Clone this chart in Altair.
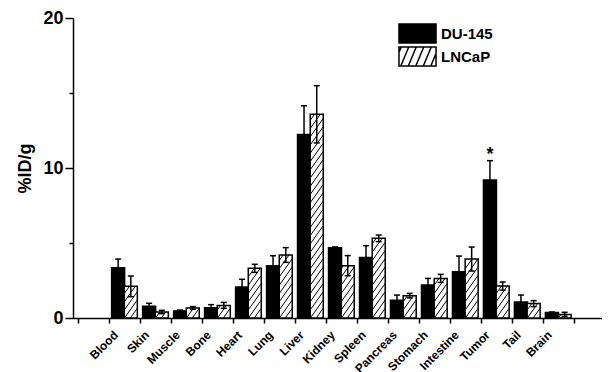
import altair as alt
import pandas as pd
import numpy as np

organs = ["Blood", "Skin", "Muscle", "Bone", "Heart", "Lung", "Liver", "Kidney",
          "Spleen", "Pancreas", "Stomach", "Intestine", "Tumor", "Tail", "Brain"]
du145 = [3.35, 0.78, 0.47, 0.69, 2.07, 3.49, 12.24, 4.69, 4.04, 1.18, 2.20, 3.09, 9.20, 1.07, 0.36]
du145_err = [0.58, 0.20, 0.06, 0.20, 0.51, 0.66, 1.91, 0.05, 0.78, 0.35, 0.44, 1.04, 1.29, 0.46, 0.04]
lncap = [2.11, 0.40, 0.67, 0.84, 3.31, 4.20, 13.58, 3.49, 5.31, 1.49, 2.64, 3.93, 2.13, 0.96, 0.24]
lncap_err = [0.69, 0.11, 0.09, 0.20, 0.27, 0.49, 1.91, 0.67, 0.22, 0.15, 0.27, 0.80, 0.27, 0.20, 0.14]
significance = ["", "", "", "", "", "", "", "", "", "", "", "", "*", "", ""]
series = ["DU-145", "LNCaP"]
y_ticks = [0, 5, 10, 15, 20]

FONT = "Liberation Sans"
HALF = 0.205          # half bar width in band units
rows = []
for i, org in enumerate(organs):
    center = i + 1.5
    rows.append(dict(organ=org, series=series[0], pos=center - HALF, value=du145[i],
                     lo=du145[i] - du145_err[i], hi=du145[i] + du145_err[i], sig=significance[i]))
    rows.append(dict(organ=org, series=series[1], pos=center + HALF, value=lncap[i],
                     lo=lncap[i] - lncap_err[i], hi=lncap[i] + lncap_err[i], sig=""))
df = pd.DataFrame(rows)
leg_df = pd.DataFrame({"legend_series": series, "pos": [1.5, 1.5], "value": [0, 0]})

# hatch segments for the LNCaP bars (slope in y-units per x-unit, spacing in y-units)
K = 2.9
P = 0.55
hatch = []
for _, r in df[df.series == "LNCaP"].iterrows():
    x0 = r.pos - HALF
    W = 2 * HALF
    H = r.value
    n0 = int(np.floor(-K * W / P)) - 1
    n1 = int(np.ceil(H / P)) + 1
    for n in range(n0, n1):
        c = n * P
        xa = max(0.0, -c / K)
        xb = min(W, (H - c) / K)
        if xb - xa > 0.01:
            hatch.append(dict(x1=x0 + xa, x2=x0 + xb, y1=c + K * xa, y2=c + K * xb))
hdf = pd.DataFrame(hatch)

names_js = "[" + ",".join("'" + o + "'" for o in organs) + "]"
x_axis = alt.Axis(values=list(range(17)),
                  labelExpr=f"datum.value >= 1 && datum.value <= {len(organs)} ? {names_js}[datum.value - 1] : ''",
                  labelAngle=-45, labelAlign="right", labelBaseline="top", labelOffset=3,
                  labelPadding=6, tickSize=5, tickWidth=1.5, domainWidth=1.5,
                  domainColor="black", tickColor="black", labelColor="black",
                  labelFont=FONT, labelFontWeight="bold", labelFontSize=12,
                  labelOverlap=False, labelBound=False, labelFlush=False, grid=False, title=None)
y_axis = alt.Axis(values=y_ticks,
                  labelExpr="datum.value % 10 === 0 ? datum.label : ''",
                  tickSize={"condition": {"test": "datum.value % 10 !== 0", "value": 4}, "value": 8},
                  tickWidth=1.5, domainWidth=1.5, domainColor="black", tickColor="black",
                  labelColor="black", labelFont=FONT, labelFontWeight="bold", labelFontSize=18,
                  labelPadding=2, grid=False, title="%ID/g", titleFont=FONT,
                  titleFontWeight="bold", titleFontSize=18, titleColor="black", titlePadding=8)

xs = alt.Scale(domain=[0, 16.75], nice=False, zero=False)
ys = alt.Scale(domain=[0, 20], nice=False)
fill_scale = alt.Scale(domain=series, range=["black", "white"])

base = alt.Chart(df)
bars = base.mark_bar(size=13, stroke="black", strokeWidth=1.5).encode(
    x=alt.X("pos:Q", scale=xs, axis=x_axis),
    y=alt.Y("value:Q", scale=ys, axis=y_axis),
    fill=alt.Fill("series:N", scale=fill_scale, legend=None),
)
hatch_layer = alt.Chart(hdf).mark_rule(color="black", strokeWidth=1).encode(
    x=alt.X("x1:Q", scale=xs, axis=x_axis), x2="x2:Q",
    y=alt.Y("y1:Q", scale=ys, axis=y_axis), y2="y2:Q",
)
err = base.mark_rule(color="black", strokeWidth=1.5).encode(
    x=alt.X("pos:Q", scale=xs, axis=x_axis),
    y=alt.Y("lo:Q", scale=ys, axis=y_axis), y2="hi:Q",
)
cap_hi = base.mark_tick(orient="horizontal", size=6, thickness=1.5, color="black", opacity=1).encode(
    x=alt.X("pos:Q", scale=xs, axis=x_axis),
    y=alt.Y("hi:Q", scale=ys, axis=y_axis),
)
cap_lo = base.mark_tick(orient="horizontal", size=6, thickness=1.5, color="black", opacity=1).encode(
    x=alt.X("pos:Q", scale=xs, axis=x_axis),
    y=alt.Y("lo:Q", scale=ys, axis=y_axis),
)
star = base.mark_text(font=FONT, fontWeight="bold", fontSize=18, color="black",
                      baseline="alphabetic", dy=-1).encode(
    x=alt.X("pos:Q", scale=xs, axis=x_axis),
    y=alt.Y("hi:Q", scale=ys, axis=y_axis),
    text="sig:N",
)

# legend symbols: 37x19 px boxes, drawn as custom paths (symbol size 19px -> r = 9.5)
HW = 1.95
rect_path = f"M{-HW},-1H{HW}V1H{-HW}Z"
hatch_parts = []
RUN = 0.84
for b in np.arange(-HW - 0.6, HW, 0.79):
    xa, ya = b, 1.0
    xb, yb = b + RUN, -1.0
    if xa < -HW:
        ya = 1 - 2 * (-HW - b) / RUN
        xa = -HW
    if xb > HW:
        yb = 1 - 2 * (HW - b) / RUN
        xb = HW
    if xb > xa:
        hatch_parts.append(f"M{xa:.3f},{ya:.3f}L{xb:.3f},{yb:.3f}")
hatch_path = rect_path + "".join(hatch_parts)

legend_def = alt.Legend(title=None, orient="none", legendX=334, legendY=5,
                        symbolSize=361, symbolStrokeColor="black",
                        symbolStrokeWidth=1.5, symbolOpacity=1,
                        labelFont=FONT, labelFontWeight="bold", labelFontSize=15,
                        labelColor="black", labelOffset=13, rowPadding=-6, padding=0)
legend_layer = alt.Chart(leg_df).mark_point(size=0, filled=True, strokeWidth=1.5).encode(
    x=alt.X("pos:Q", scale=xs, axis=x_axis),
    y=alt.Y("value:Q", scale=ys, axis=y_axis),
    fill=alt.Fill("legend_series:N", scale=fill_scale, legend=legend_def),
    stroke=alt.Stroke("legend_series:N", scale=alt.Scale(domain=series, range=["black", "black"]),
                      legend=legend_def),
    shape=alt.Shape("legend_series:N", scale=alt.Scale(domain=series, range=[rect_path, hatch_path]),
                    legend=legend_def),
)

chart = alt.layer(bars, hatch_layer, err, cap_hi, cap_lo, star, legend_layer).resolve_scale(
    fill="independent", shape="independent", stroke="independent"
).properties(
    width=529, height=300,
    autosize=alt.AutoSizeParams(type="none"),
    padding={"left": 65, "top": 10, "right": 0, "bottom": 54},
).configure_view(stroke=None)

chart.save("out.html", embed_options={"renderer": "svg", "actions": False})
